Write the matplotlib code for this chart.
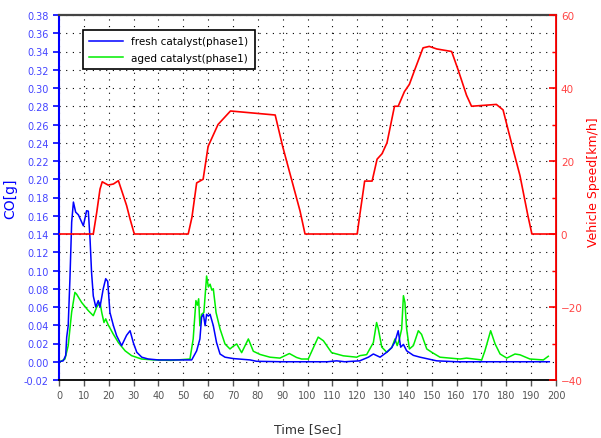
import numpy as np
import matplotlib
matplotlib.use('Agg')
import matplotlib.pyplot as plt
from matplotlib.ticker import MultipleLocator


# CO emission, fresh catalyst (phase 1)
t_fresh = [0, 1.7, 2.7, 3.1, 3.7, 4.4, 5.1, 5.8, 6.7, 7.8, 9.8, 11.1, 11.8, 12.5, 13.1,
           13.8, 14.8, 15.8, 16.5, 17.8, 18.8, 19.6, 20.5, 21.9, 23.2, 25.2, 27.2, 28.6,
           29.9, 31.3, 33.3, 35.9, 40, 45, 50, 53.4, 55.4, 56.7, 57.4, 58.1, 58.8, 59.4,
           60.1, 60.8, 62.1, 63.4, 64.8, 66.8, 70.1, 76.9, 79.5, 90, 100, 108, 111.7,
           115, 121, 124.5, 126.5, 129.2, 131.9, 133.9, 135.2, 136.5, 137.5, 138.6,
           139.9, 142.6, 145.3, 152, 160, 170, 180, 190, 197.3]
co_fresh = [0, 0.001, 0.007, 0.027, 0.0395, 0.091, 0.153, 0.175, 0.164, 0.161, 0.149,
            0.1655, 0.165, 0.134, 0.098, 0.072, 0.06, 0.067, 0.06, 0.080, 0.091, 0.088,
            0.054, 0.0395, 0.0285, 0.0176, 0.029, 0.034, 0.021, 0.0104, 0.005, 0.003,
            0.002, 0.002, 0.002, 0.002, 0.012, 0.025, 0.049, 0.052, 0.0395, 0.052, 0.050,
            0.052, 0.0395, 0.021, 0.0085, 0.005, 0.0035, 0.002, 0.0005, 0, 0, 0, 0.001,
            0, 0.001, 0.005, 0.0085, 0.005, 0.0104, 0.0155, 0.022, 0.034, 0.016, 0.019,
            0.012, 0.007, 0.005, 0.001, 0, 0, 0, 0, 0]

# CO emission, aged catalyst (phase 1)
t_aged = [0, 0.4, 2.4, 3.7, 5.1, 6.4, 7.1, 9.1, 11.8, 13.8, 15.2, 16.5, 17.2, 18.1, 18.8,
          19.7, 21.9, 23.9, 26.6, 29.2, 33.2, 38, 45, 52.7, 54, 55.1, 55.7, 56.2, 56.7,
          57.4, 58.3, 59.4, 60.1, 60.8, 61.5, 62.1, 63.2, 64.8, 66.8, 68.8, 70.1, 71.5,
          73.5, 76.2, 78.2, 80.9, 84.9, 88.9, 92.7, 95.6, 97.6, 100.3, 104.3, 106.4,
          109.7, 114.4, 119.8, 121.1, 123.8, 126.5, 127.8, 128.5, 129.9, 131.9, 133.9,
          135.2, 136.1, 137, 137.9, 138.6, 139.2, 139.9, 141, 142.6, 144.6, 145.9, 148,
          150, 153.3, 157.3, 161.4, 164, 170.1, 171.4, 173.7, 175.5, 177.5, 180.2,
          183.5, 185.5, 189.5, 194.9, 196.9]
co_aged = [0, 0, 0.003, 0.0176, 0.0545, 0.076, 0.074, 0.065, 0.056, 0.0505, 0.06, 0.065,
           0.054, 0.043, 0.047, 0.041, 0.030, 0.021, 0.012, 0.0067, 0.003, 0.002, 0.0015,
           0.003, 0.025, 0.067, 0.062, 0.069, 0.0395, 0.052, 0.054, 0.094, 0.082, 0.085,
           0.0785, 0.08, 0.054, 0.036, 0.0195, 0.014, 0.017, 0.0195, 0.010, 0.025,
           0.0115, 0.008, 0.005, 0.004, 0.009, 0.0047, 0.003, 0.003, 0.027, 0.023, 0.010,
           0.0065, 0.005, 0.0067, 0.0078, 0.021, 0.043, 0.036, 0.016, 0.0104, 0.0155,
           0.025, 0.0177, 0.025, 0.036, 0.0724, 0.065, 0.036, 0.014, 0.0177, 0.034,
           0.030, 0.014, 0.0104, 0.005, 0.004, 0.003, 0.004, 0.002, 0.012, 0.034, 0.0195,
           0.0085, 0.004, 0.0085, 0.0076, 0.003, 0.002, 0.006]

# vehicle speed
t_speed = [0, 13.8, 15.2, 16.5, 17.4, 19.8, 21.9, 23.9, 25.9, 27.2, 28.6, 30.3, 52,
           53.5, 55.4, 58, 60, 64, 69, 87, 90, 97, 99, 120, 121, 123, 126, 128, 130,
           132, 135, 136.5, 139, 141, 143, 146.5, 149, 152, 158, 160.6, 164, 166, 176,
           178.7, 182.8, 185.5, 188.7, 190.3, 200]
speed = [0, 0, 6, 12.3, 14.3, 13.4, 13.7, 14.6, 10.5, 7.8, 4.1, 0, 0, 4.6, 14, 15, 24,
         30, 33.7, 32.6, 24, 6.3, 0, 0, 5, 14.5, 14.5, 20.5, 22, 25, 35, 35, 39, 41,
         44.7, 51, 51.4, 50.7, 50, 45, 38, 35, 35.5, 34, 23, 16, 5, 0, 0]


fig = plt.figure(figsize=(6.01, 4.39), dpi=100)
ax = fig.add_axes([59/601, 1-381/439, (556-59)/601, (381-16)/439])
ax2 = ax.twinx()

l1, = ax.plot(t_fresh, co_fresh, color='blue', lw=1.1, label='fresh catalyst(phase1)', zorder=3)
l2, = ax.plot(t_aged, co_aged, color='#00ee00', lw=1.1, label='aged catalyst(phase1)', zorder=2)
ax2.plot(t_speed, speed, color='red', lw=1.2)

ax.set_xlim(0, 200)
ax.set_ylim(-0.02, 0.38)
ax2.set_ylim(-40, 60)

ax.xaxis.set_major_locator(MultipleLocator(10))
ax.yaxis.set_major_locator(MultipleLocator(0.02))
ax.set_yticklabels([f'{v:.2f}' for v in ax.get_yticks()])
ax2.yaxis.set_major_locator(MultipleLocator(20))
ax2.yaxis.set_minor_locator(MultipleLocator(10))

ax.grid(True, color='black', linestyle=(0, (1, 5)), linewidth=0.8)

ax.tick_params(axis='x', direction='out', length=4, width=1, labelsize=7, colors='#555555',
               pad=3)
ax.tick_params(axis='y', direction='out', length=4, width=1.2, labelsize=7,
               colors='blue', labelcolor='#4444ff')
ax2.tick_params(axis='y', which='major', direction='in', length=5, width=1.2,
                labelsize=7.5, colors='red', labelcolor='#ff4444')
ax2.tick_params(axis='y', which='minor', direction='in', length=3, width=1, colors='red')

ax.spines['left'].set_color('blue')
ax.spines['left'].set_linewidth(1.5)
ax.spines['bottom'].set_linewidth(1.3)
ax.spines['top'].set_color('#444444')
ax.spines['top'].set_linewidth(1.6)
ax2.spines['right'].set_color('red')
ax2.spines['right'].set_linewidth(1.3)
ax2.spines['left'].set_visible(False)
ax2.spines['top'].set_visible(False)
ax2.spines['bottom'].set_visible(False)

ax.set_ylabel('CO[g]', color='blue', fontsize=10)
ax.yaxis.set_label_coords(-0.085, 0.5)
ax2.set_ylabel('Vehicle Speed[km/h]', color='red', fontsize=9)
ax2.yaxis.set_label_coords(1.062, 0.545)
ax.set_xlabel('Time [Sec]', color='#333333', fontsize=9)
ax.xaxis.set_label_coords(0.5, -0.115)

leg = ax.legend(handles=[l1, l2], loc='upper left', bbox_to_anchor=(78/601, 1-26/439),
                bbox_transform=fig.transFigure, fancybox=False, framealpha=1,
                edgecolor='black', fontsize=7.5, handlelength=3.2, borderpad=0.6,
                labelspacing=0.6)
leg.get_frame().set_linewidth(1.2)
leg.set_zorder(10)

fig.savefig('out.png', dpi=100)
